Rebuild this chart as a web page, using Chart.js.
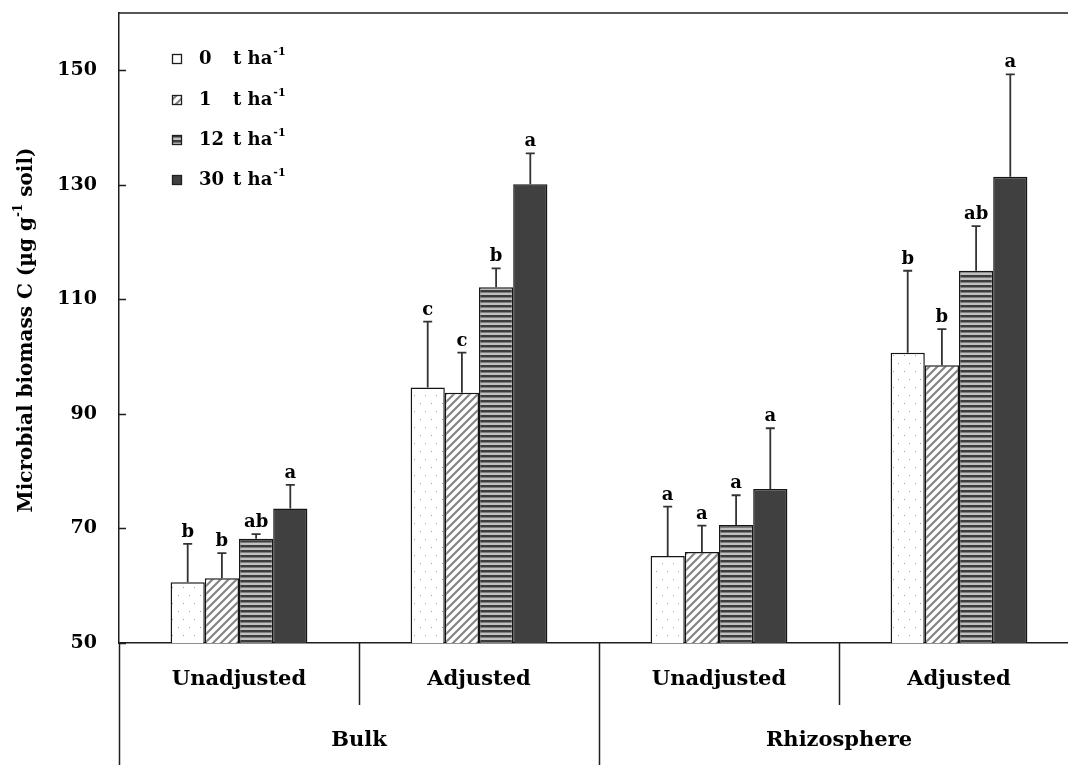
<!DOCTYPE html>
<html>
<head>
<meta charset="utf-8">
<script src="https://cdn.jsdelivr.net/npm/chart.js@4"></script>
<style>
  html, body { margin: 0; padding: 0; background: #fff; overflow: hidden; }
  #wrap { width: 1068px; height: 773px; overflow: hidden; }
  canvas { display: block; }
</style>
</head>
<body>
<div id="wrap"><canvas id="chart" width="1080" height="773"></canvas></div>
<script>
// ── Data ─────────────────────────────────────────────────────
const categories = ['Unadjusted', 'Adjusted', 'Unadjusted', 'Adjusted'];
const groups     = ['Bulk', 'Rhizosphere'];
const rates      = ['0', '1', '12', '30'];

const mbc0  = [60.6, 94.6, 65.2, 100.7];
const mbc1  = [61.3, 93.7, 65.9, 98.5];
const mbc12 = [68.2, 112.1, 70.6, 115.0];
const mbc30 = [73.5, 130.1, 76.9, 131.4];

const err0  = [6.7, 11.5, 8.6, 14.3];
const err1  = [4.4, 7.0, 4.6, 6.3];
const err12 = [0.8, 3.3, 5.2, 7.8];
const err30 = [4.1, 5.4, 10.6, 17.9];

const sig0  = ['b', 'c', 'a', 'b'];
const sig1  = ['b', 'c', 'a', 'b'];
const sig12 = ['ab', 'b', 'a', 'ab'];
const sig30 = ['a', 'a', 'a', 'a'];

const yTickValues = [50, 70, 90, 110, 130, 150];

// ── Styling helpers ──────────────────────────────────────────
const SERIF = "'DejaVu Serif', serif";
const INK   = '#1e1e1e';

const canvas = document.getElementById('chart');
const ctx    = canvas.getContext('2d');

function makePattern(w, h, draw) {
  const c = document.createElement('canvas');
  c.width = w; c.height = h;
  const g = c.getContext('2d');
  g.fillStyle = '#fff';
  g.fillRect(0, 0, w, h);
  draw(g, w, h);
  return ctx.createPattern(c, 'repeat');
}

// fine grey dots on white
const dotFill = makePattern(11, 16, g => {
  g.fillStyle = '#a0a0a0';
  g.fillRect(2, 3, 1, 1);
  g.fillRect(7, 11, 1, 1);
});

// grey "/" hatching
const diagFill = makePattern(8, 8, g => {
  g.strokeStyle = '#858585';
  g.lineWidth = 2.2;
  g.beginPath();
  g.moveTo(-1, 9); g.lineTo(9, -1);
  g.moveTo(-1, 1); g.lineTo(1, -1);
  g.moveTo(7, 9);  g.lineTo(9, 7);
  g.stroke();
});

// dark / light horizontal stripes
const stripeFill = makePattern(4, 5, g => {
  g.fillStyle = '#3c3c3c'; g.fillRect(0, 0, 4, 2);
  g.fillStyle = '#7c7c7c'; g.fillRect(0, 2, 4, 1);
  g.fillStyle = '#c0c0c0'; g.fillRect(0, 3, 4, 2);
});

const darkFill = '#404040';

const series = [
  { rate: rates[0], data: mbc0,  errors: err0,  letters: sig0,  fill: dotFill },
  { rate: rates[1], data: mbc1,  errors: err1,  letters: sig1,  fill: diagFill },
  { rate: rates[2], data: mbc12, errors: err12, letters: sig12, fill: stripeFill },
  { rate: rates[3], data: mbc30, errors: err30, letters: sig30, fill: darkFill }
];

// ── Plugins ──────────────────────────────────────────────────
// error bars (upper whisker only) + significance letters
const errorBarPlugin = {
  id: 'errorBars',
  afterDatasetsDraw(chart) {
    const c = chart.ctx;
    const yScale = chart.scales.y;
    c.save();
    chart.data.datasets.forEach((ds, d) => {
      const meta = chart.getDatasetMeta(d);
      meta.data.forEach((bar, i) => {
        const yTop = yScale.getPixelForValue(ds.data[i] + ds.errors[i]);
        c.strokeStyle = '#333';
        c.lineWidth = 1.8;
        c.beginPath();
        c.moveTo(bar.x, bar.y);
        c.lineTo(bar.x, yTop);
        c.moveTo(bar.x - 4.5, yTop);
        c.lineTo(bar.x + 4.5, yTop);
        c.stroke();

        c.fillStyle = '#000';
        c.font = `bold 18px ${SERIF}`;
        c.textAlign = 'center';
        c.textBaseline = 'alphabetic';
        c.fillText(ds.letters[i], bar.x, yTop - 7);
      });
    });
    c.restore();
  }
};

// frame, inward y ticks, category separators, group labels, y title, legend
const decorPlugin = {
  id: 'decor',
  afterDraw(chart) {
    const c = chart.ctx;
    const { left, right, top, bottom } = chart.chartArea;
    const xScale = chart.scales.x;
    const yScale = chart.scales.y;
    c.save();

    // top border
    c.strokeStyle = INK;
    c.lineWidth = 1.5;
    c.beginPath();
    c.moveTo(left, top);
    c.lineTo(right, top);
    c.stroke();

    // inward tick marks on y axis
    c.beginPath();
    yScale.ticks.forEach(t => {
      const y = Math.round(yScale.getPixelForValue(t.value)) + 0.5;
      c.moveTo(left, y);
      c.lineTo(left + 7, y);
    });
    c.stroke();

    // separators under the x axis
    const step = (xScale.right - xScale.left) / categories.length;
    c.beginPath();
    for (let i = 0; i <= categories.length; i++) {
      const x = Math.round(xScale.left + step * i) + 0.5;
      c.moveTo(x, bottom);
      c.lineTo(x, i % 2 === 0 ? 765 : 705);
    }
    c.stroke();

    // group labels
    c.fillStyle = '#000';
    c.font = `bold 21px ${SERIF}`;
    c.textAlign = 'center';
    c.textBaseline = 'middle';
    groups.forEach((g, k) => {
      const x = (xScale.getPixelForValue(2 * k) + xScale.getPixelForValue(2 * k + 1)) / 2;
      c.fillText(g, x, 741);
    });

    // y axis title with superscript
    c.save();
    c.translate(27, (top + bottom) / 2 + 2);
    c.rotate(-Math.PI / 2);
    const main = `bold 20px ${SERIF}`;
    const sup  = `bold 12px ${SERIF}`;
    const parts = [
      { t: 'Microbial biomass C (\u00b5g g', f: main, dy: 0 },
      { t: '-1', f: sup, dy: -8 },
      { t: ' soil)', f: main, dy: 0 }
    ];
    let total = 0;
    parts.forEach(p => { c.font = p.f; p.w = c.measureText(p.t).width; total += p.w; });
    let x = -total / 2;
    c.textAlign = 'left';
    c.textBaseline = 'middle';
    parts.forEach(p => { c.font = p.f; c.fillText(p.t, x, p.dy); x += p.w; });
    c.restore();

    // legend
    const legendY = [59, 100, 140, 180];
    series.forEach((s, k) => {
      const y = legendY[k];
      c.fillStyle = s.fill;
      c.fillRect(172, y - 5, 10, 10);
      c.strokeStyle = INK;
      c.lineWidth = 1.3;
      c.strokeRect(172.5, y - 4.5, 9, 9);

      c.fillStyle = '#000';
      c.textAlign = 'left';
      c.textBaseline = 'middle';
      c.font = `bold 18px ${SERIF}`;
      c.fillText(s.rate, 199, y);
      c.fillText('t ha', 233, y);
      const w = c.measureText('t ha').width;
      c.font = `bold 11px ${SERIF}`;
      c.fillText('-1', 233 + w + 1, y - 7);
    });

    c.restore();
  }
};

// ── Chart ────────────────────────────────────────────────────
new Chart(canvas, {
  type: 'bar',
  data: {
    labels: categories,
    datasets: series.map(s => ({
      label: `${s.rate} t ha-1`,
      data: s.data,
      errors: s.errors,
      letters: s.letters,
      backgroundColor: s.fill,
      borderColor: '#151515',
      borderWidth: 1.5,
      categoryPercentage: 0.57,
      barPercentage: 1.0
    }))
  },
  options: {
    responsive: false,
    animation: false,
    devicePixelRatio: 1,
    layout: { padding: { top: 13, right: 1, left: 0, bottom: 0 } },
    plugins: { legend: { display: false }, tooltip: { enabled: false } },
    scales: {
      x: {
        offset: true,
        afterFit: s => { s.height = 130; s.paddingLeft = 0; s.paddingRight = 0; },
        grid: { display: false, drawTicks: false },
        border: { display: true, color: INK, width: 1.5 },
        ticks: {
          padding: 24, color: '#000', maxRotation: 0, autoSkip: false,
          font: { family: SERIF, weight: 'bold', size: 21 }
        }
      },
      y: {
        min: 50, max: 160,
        afterFit: s => { s.width = 119; s.paddingTop = 0; s.paddingBottom = 0; },
        afterBuildTicks: s => { s.ticks = yTickValues.map(v => ({ value: v })); },
        grid: { drawOnChartArea: false, drawTicks: false },
        border: { display: true, color: INK, width: 1.5 },
        ticks: {
          padding: 22, color: '#000',
          font: { family: SERIF, weight: 'bold', size: 19 }
        }
      }
    }
  },
  plugins: [errorBarPlugin, decorPlugin]
});
</script>
</body>
</html>
